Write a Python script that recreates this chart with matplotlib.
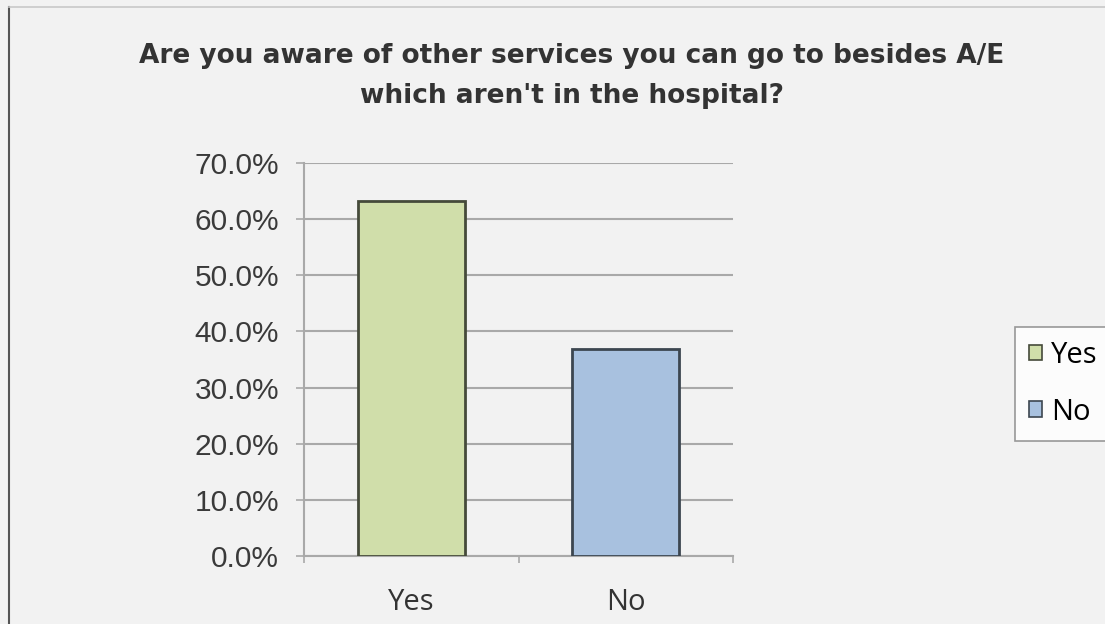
import matplotlib.pyplot as plt
from matplotlib.lines import Line2D
from matplotlib.patches import Patch

# Survey answers (share of respondents)
answers = ['Yes', 'No']
shares = [63.2, 36.8]
bar_colors = ['#d0deaa', '#a8c1df']
edge_colors = ['#454a3a', '#3c4650']
y_ticks = [0, 10, 20, 30, 40, 50, 60, 70]

bg = '#f2f2f2'
grid_col = '#a9a9a9'

fig = plt.figure(figsize=(11.05, 6.24), dpi=100, facecolor=bg)
ax = fig.add_axes([304 / 1105, 1 - 556 / 624, 429 / 1105, 393 / 624])
ax.set_facecolor(bg)

x = range(len(answers))
ax.bar(x, shares, width=0.5, color=bar_colors, edgecolor=edge_colors,
       linewidth=2, zorder=3)

ax.set_xlim(-0.5, 1.5)
ax.set_ylim(0, 70)
ax.set_yticks(y_ticks)
ax.set_yticklabels([f'{v:.1f}%' for v in y_ticks], fontsize=21.5,
                   family='Liberation Sans', color='#3a3a3a')
ax.yaxis.grid(True, color=grid_col, linewidth=1.5, zorder=0)
ax.tick_params(axis='y', length=6, width=1.2, color=grid_col, pad=12)

# category ticks sit on the category boundaries
ax.set_xticks([-0.5, 0.5, 1.5])
ax.set_xticklabels([])
ax.set_xticks(list(x), minor=True)
ax.set_xticklabels(answers, minor=True, fontsize=21, family='Open Sans',
                   color='#333333')
ax.tick_params(axis='x', which='major', length=5, width=1.2, color=grid_col)
ax.tick_params(axis='x', which='minor', length=0, pad=23)

for side in ['top', 'right']:
    ax.spines[side].set_visible(False)
ax.spines['left'].set_color(grid_col)
ax.spines['left'].set_linewidth(1.5)
ax.spines['bottom'].set_color(grid_col)
ax.spines['bottom'].set_linewidth(1.5)

fig.text(572 / 1105, 1 - 76 / 624,
         'Are you aware of other services you can go to besides A/E\n'
         "which aren't in the hospital?",
         ha='center', va='center', fontsize=19, fontweight='bold',
         family='DejaVu Sans', color='#333333', linespacing=1.7)

handles = [Patch(facecolor=c, edgecolor=e, linewidth=1.2)
           for c, e in zip(bar_colors, edge_colors)]
leg = fig.legend(handles, answers, loc='upper left',
                 bbox_to_anchor=(1015 / 1105, 1 - 327 / 624),
                 frameon=True, handlelength=0.45,
                 handleheight=0.45, handletextpad=0.3, labelspacing=0.95,
                 borderpad=0.48, borderaxespad=0, fancybox=False,
                 prop={'family': 'Open Sans', 'size': 21})
leg.get_frame().set_edgecolor('#808080')
leg.get_frame().set_facecolor('white')
leg.get_frame().set_linewidth(1.2)

# outer chart border on the left and top
fig.add_artist(Line2D([9 / 1105, 9 / 1105], [0, 1 - 7 / 624],
                      color='#555555', linewidth=1.5))
fig.add_artist(Line2D([9 / 1105, 1], [1 - 7 / 624, 1 - 7 / 624],
                      color='#c8c8c8', linewidth=1.2))

fig.savefig('out.png', dpi=100, facecolor=bg)
